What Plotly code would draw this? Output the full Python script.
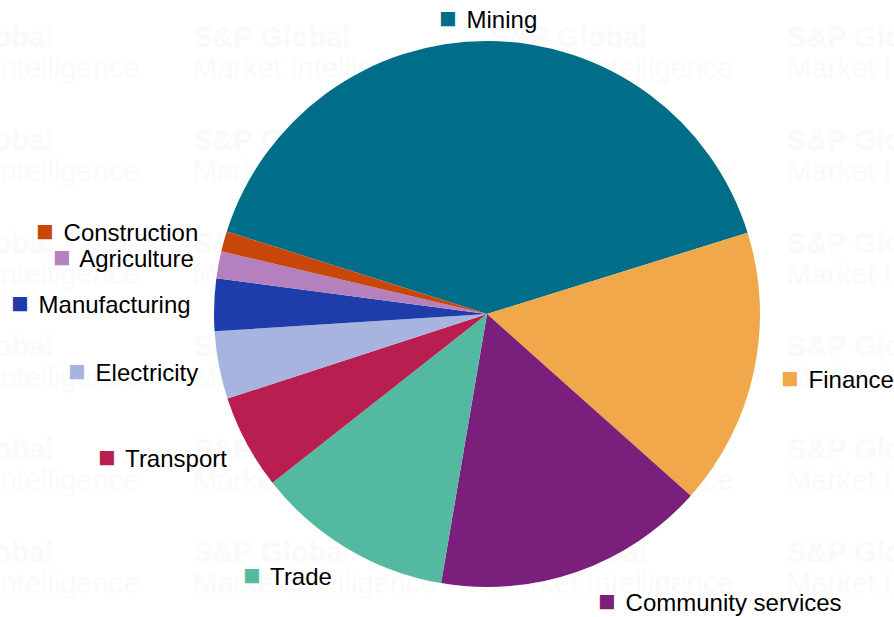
import math
import plotly.graph_objects as go

# ---- data ----
sectors = ["Mining", "Finance", "Community services", "Trade", "Transport",
           "Electricity", "Manufacturing", "Agriculture", "Construction"]
shares = [40.3, 16.4, 16.1, 11.7, 5.6, 4.0, 3.1, 1.6, 1.2]
colors = ["#006E88", "#F0A84B", "#7B1F7D", "#53BAA1", "#B91E50",
          "#A8B4E0", "#1E3CAA", "#B580BE", "#C8460A"]

# ---- layout constants ----
W, H = 894, 617
CX, CY, R = 487, 314, 273       # pie centre / radius in pixels
ROT = 287.6                     # start angle of first slice (deg, clockwise from 12 o'clock)
DX_L, DX_R, DX_C = 23, 29, 9    # horizontal label offsets from the slice edge
DY_UP, DY_DN, DTOP = 40, 31, 23 # vertical label offsets
FONT = "Liberation Sans, Arial, sans-serif"

fig = go.Figure()

# very faint background watermark (under the pie)
wm_x, wm_y, wm_t = [], [], []
for row in range(6):
    for col in range(4):
        x0 = -104 + col * 297
        y0 = 40 + row * 103
        wm_x.append(x0); wm_y.append(y0); wm_t.append("<b>S&P Global</b>")
        wm_x.append(x0); wm_y.append(y0 + 31); wm_t.append("Market Intelligence")
fig.add_trace(go.Scatter(
    x=wm_x, y=wm_y, text=wm_t, mode="text", textposition="middle right",
    textfont=dict(family=FONT, size=29, color="#FAFAFA"),
    hoverinfo="skip", showlegend=False))

fig.add_trace(go.Pie(
    labels=sectors, values=shares, sort=False, direction="clockwise",
    rotation=ROT, textinfo="none", hoverinfo="label+percent",
    marker=dict(colors=colors, line=dict(width=0)),
    domain=dict(x=[(CX - R) / W, (CX + R) / W], y=[1 - (CY + R) / H, 1 - (CY - R) / H]),
    showlegend=False))

# labels with coloured squares, positioned from slice mid-angles
total = sum(shares)
cum = 0.0
annotations = []
for name, val, col in zip(sectors, shares, colors):
    mid = ROT + (cum + val / 2) / total * 360
    cum += val
    a = math.radians(mid)
    s, c = math.sin(a), math.cos(a)
    ex, ey = CX + R * s, CY - R * c
    if abs(s) < 0.15:
        xa = "center"
        px, py = ex, CY - (R + DTOP) * c
    else:
        if s > 0:
            xa, px = "left", ex + DX_R + DX_C * c
        else:
            xa, px = "right", ex - (DX_L + DX_C * c)
        py = ey - (DY_UP if c > 0 else DY_DN) * c
    annotations.append(dict(
        x=px / W, y=1 - py / H, xref="paper", yref="paper",
        xanchor=xa, yanchor="middle", showarrow=False,
        borderpad=0, borderwidth=0,
        text=(f"<span style='color:{col};font-size:29px'>■</span>"
              f"<span style='font-size:12px'>&nbsp;</span> {name}"),
        font=dict(family=FONT, size=24, color="#000000")))

fig.update_layout(
    width=W, height=H,
    margin=dict(l=0, r=0, t=0, b=0),
    paper_bgcolor="white", plot_bgcolor="white",
    xaxis=dict(range=[0, W], visible=False, fixedrange=True),
    yaxis=dict(range=[H, 0], visible=False, fixedrange=True),
    annotations=annotations,
)

fig.write_html("out.html")
